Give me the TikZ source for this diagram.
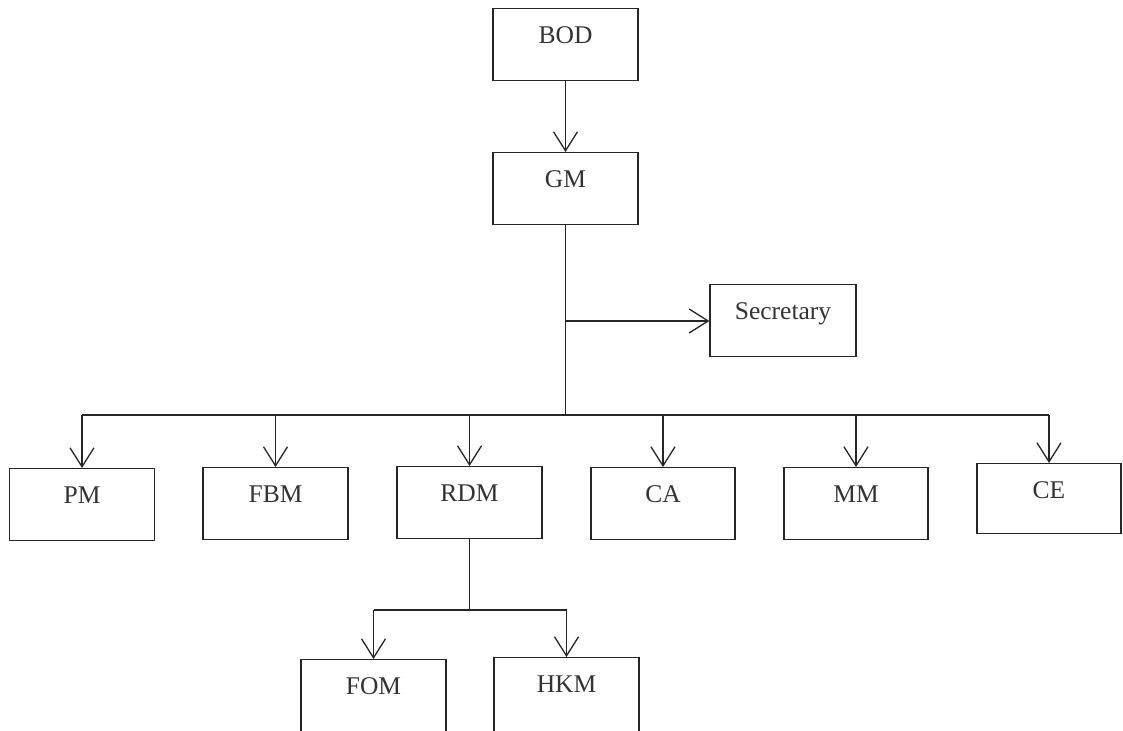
\documentclass[tikz,border=0pt]{standalone}
\usepackage{fontspec}
\setmainfont{Liberation Serif}
\usetikzlibrary{arrows.meta}
\begin{document}
\begin{tikzpicture}[x=1pt,y=-1pt,
  orgbox/.style={draw=black!85, line width=1.3pt, minimum width=145pt, inner xsep=0pt, inner ysep=0pt,
    text height=35pt, text depth=37pt, font=\fontsize{25.5}{30}\selectfont, text=black!80},
  link/.style={draw=black!85, line width=1.3pt},
  arr/.style={link, -{Straight Barb[length=19pt,width=24pt,line width=1.3pt]}}]
\useasboundingbox[fill=white] (0,0) rectangle (1123,730);
\begin{scope}
\clip (0,0) rectangle (1123,730);
\node[orgbox, anchor=north] (bod) at (565.5,8) {BOD};
\node[orgbox, anchor=north] (gm) at (565.5,152) {GM};
\node[orgbox, anchor=north, minimum width=146pt] (sec) at (783,284) {Secretary};
\node[orgbox, anchor=north] (pm) at (82,468) {PM};
\node[orgbox, anchor=north] (fbm) at (275.5,467) {FBM};
\node[orgbox, anchor=north] (rdm) at (469.5,466) {RDM};
\node[orgbox, anchor=north, minimum width=144pt] (ca) at (663,467) {CA};
\node[orgbox, anchor=north, minimum width=144pt] (mm) at (856,467) {MM};
\node[orgbox, anchor=north, minimum width=144pt, text depth=35pt] (ce) at (1049,463) {CE};
\node[orgbox, anchor=north, text depth=50pt] (fom) at (373.5,659) {FOM};
\node[orgbox, anchor=north, text depth=50pt] (hkm) at (566.5,657) {HKM};

\coordinate (bus) at (565.5,415);
\coordinate (secj) at (565.5,321);
\coordinate (sub) at (469.5,610);

\draw[arr] (bod.south) -- (gm.north);
\draw[link] (gm.south) -- (bus);
\draw[arr] (secj) -- (sec.west |- secj);
\draw[link] (pm.north |- bus) -- (ce.north |- bus);
\foreach \n in {pm,fbm,rdm,ca,mm,ce}
  \draw[arr] (\n.north |- bus) -- (\n.north);
\draw[link] (rdm.south) -- (sub);
\draw[link] (fom.north |- sub) -- (hkm.north |- sub);
\draw[arr] (fom.north |- sub) -- (fom.north);
\draw[arr] (hkm.north |- sub) -- (hkm.north);
\end{scope}
\end{tikzpicture}
\end{document}
